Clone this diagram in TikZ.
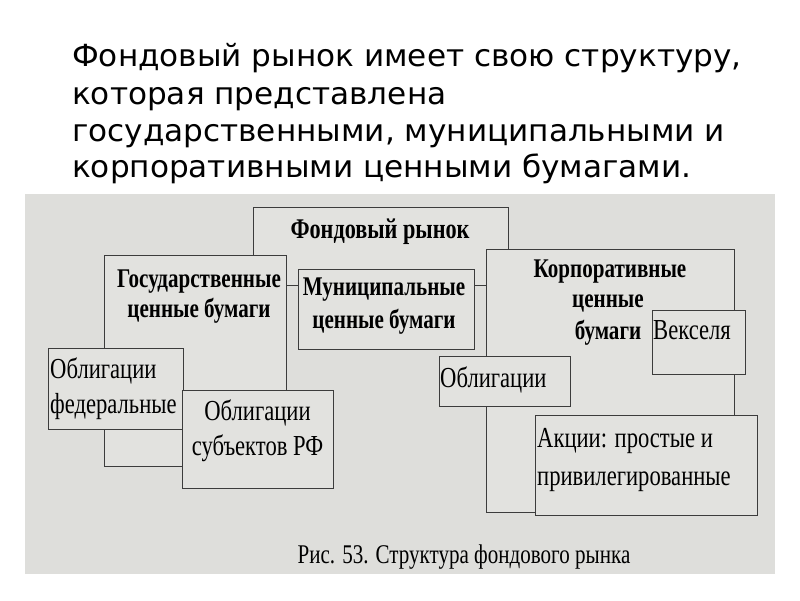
\documentclass[tikz,border=0pt]{standalone}
\usepackage{fontspec}
\setmainfont[FakeStretch=0.78]{Liberation Serif}
\newfontfamily\titlefont[FakeStretch=1.02]{DejaVu Sans}
\usetikzlibrary{fit}
\definecolor{photobg}{RGB}{222,222,219}
\definecolor{boxfill}{RGB}{226,226,223}
\definecolor{edge}{RGB}{60,60,60}
\begin{document}
\begin{tikzpicture}[x=1pt,y=-1pt,
  box/.style={draw=edge, line width=0.9pt, fill=boxfill, inner sep=0pt},
  titleline/.style={anchor=base west, inner sep=0pt, font=\titlefont\fontsize{30.5}{36}\selectfont},
  boldtxt/.style={anchor=base, inner sep=0pt, font=\bfseries\fontsize{27}{30}\selectfont},
  regtxt/.style={anchor=base west, inner sep=0pt, font=\fontsize{29}{35}\selectfont},
  regc/.style={regtxt, anchor=base},
  captxt/.style={anchor=base, inner sep=0pt, font=\fontsize{27}{30}\selectfont}]
\useasboundingbox (0,0) rectangle (800,600);
\fill[white] (0,0) rectangle (800,600);
% title
\node[titleline] (t1) at (72,66) {Фондовый рынок имеет свою структуру,};
\node[titleline] (t2) at (72,104) {которая представлена};
\node[titleline] (t3) at (72,141) {государственными, муниципальными и};
\node[titleline] (t4) at (72,177) {корпоративными ценными бумагами.};
% photo
\fill[photobg] (25,194) rectangle (775,574);
% boxes (back to front)
\node[box, fit={(253,207) (508,285)}] (fond) {};
\node[box, fit={(104,255) (286,466)}] (gos) {};
\node[box, fit={(298,269) (474,349)}] (mun) {};
\node[box, fit={(486,249) (734,512)}] (korp) {};
\node[box, fit={(48,348) (183,429)}] (fed) {};
\node[box, fit={(182,390) (333,488)}] (subj) {};
\node[box, fit={(439,356) (570,406)}] (obl) {};
\node[box, fit={(652,310) (745,374)}] (veks) {};
\node[box, fit={(535,415) (757,515)}] (akc) {};
% texts
\node[boldtxt, font=\bfseries\fontsize{28.5}{30}\selectfont] (fondt) at (380,238) {Фондовый рынок};
\node[boldtxt] (gost1) at (199,287) {Государственные};
\node[boldtxt] (gost2) at (199,317) {ценные бумаги};
\node[boldtxt] (munt1) at (384,295) {Муниципальные};
\node[boldtxt] (munt2) at (384,328) {ценные бумаги};
\node[boldtxt] (korpt1) at (610,277) {Корпоративные};
\node[boldtxt] (korpt2) at (608,307) {ценные};
\node[boldtxt] (korpt3) at (608,339) {бумаги};
\node[regtxt] (vekst) at (653,339) {Векселя};
\node[regtxt] (fedt1) at (50,378) {Облигации};
\node[regtxt] (fedt2) at (50,413) {федеральные};
\node[regc] (subjt1) at (257.5,420) {Облигации};
\node[regc] (subjt2) at (257.5,455) {субъектов РФ};
\node[regtxt] (oblt) at (440,387) {Облигации};
\node[regtxt] (akct1) at (537,447) {Акции: простые и};
\node[regtxt] (akct2) at (537,485) {привилегированные};
\node[captxt] (cap) at (464,563) {Рис. 53. Структура фондового рынка};
\end{tikzpicture}
\end{document}
